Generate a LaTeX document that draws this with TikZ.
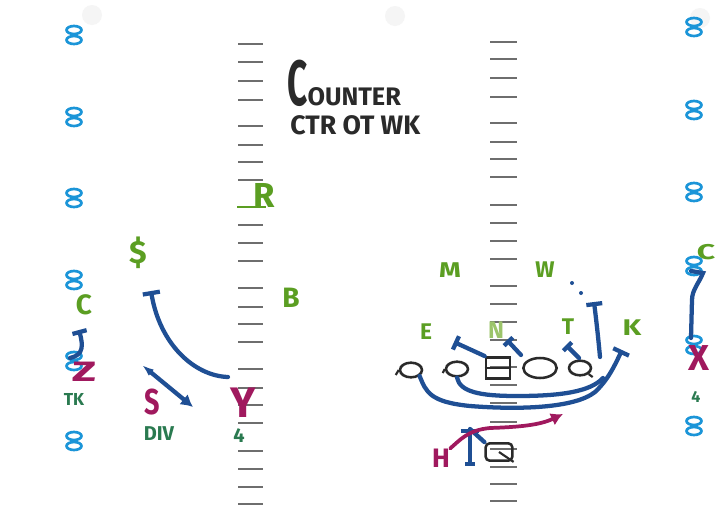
\documentclass[tikz,border=0pt]{standalone}
\usepackage{fontspec}
\setmainfont{Fira Sans}
\usetikzlibrary{arrows.meta,shapes.geometric}

\definecolor{routeblue}{HTML}{1F4F94}
\definecolor{skill}{HTML}{A0195E}
\definecolor{defgreen}{HTML}{5B9E22}
\definecolor{palegreen}{HTML}{9CC46A}
\definecolor{tech}{HTML}{2A7A50}
\definecolor{markblue}{HTML}{1B95D8}
\definecolor{hashgray}{HTML}{6E6E6E}
\definecolor{ink}{HTML}{2A2A2A}

\begin{document}
\begin{tikzpicture}[x=0.75pt,y=-0.75pt,
  hashmark/.style={draw=hashgray, line width=1.4pt},
  route/.style={draw=routeblue, line width=3.2pt, line cap=round},
  blockend/.style={-{Bar[width=#1]}},
  runpath/.style={draw=skill, line width=2.8pt, line cap=round},
  lbl/.style={inner sep=0pt, font=\bfseries\fontsize{#1}{#1}\selectfont},
  def/.style={lbl=#1, text=defgreen},
  off/.style={lbl=#1, text=skill},
  techlbl/.style={lbl=#1, text=tech},
  lineman/.style={draw=ink, line width=1.9pt, ellipse, inner sep=0pt,
    minimum width=16.5pt, minimum height=11pt},
  yardpair/.pic={
    \draw[markblue, line width=2pt] (0,-5) ellipse [x radius=7.5, y radius=4];
    \draw[markblue, line width=2pt] (0,5) ellipse [x radius=7.5, y radius=4];
  }]

\useasboundingbox (0,0) rectangle (726,508);
\fill[white] (0,0) rectangle (726,508);

% binder holes
\foreach \hx/\hy in {92/15, 395/16, 700/18}
  \fill[gray!8] (\hx,\hy) circle (10);

% hash marks, left and middle
\foreach \y in {44,62,81,100,126,145,162,180,225,243,261,288,307,324,342,369,388,405,423,451,469,487,504}
  \draw[hashmark] (238,\y) -- (263,\y);
\draw[defgreen, line width=1.7pt] (237,207) -- (266,207);
\foreach \y in {42,59,78,97,123,142,159,177,205,223,241,259,286,304,322,340,367,385,403,422,449,467,484,501}
  \draw[hashmark] (490,\y) -- (517,\y);

% yard-number marks
\foreach \my in {35,117,198,280,361,441}
  \pic at (74,\my) {yardpair};
\foreach \my in {27,110,192,266,345,426}
  \pic at (694,\my) {yardpair};

% title
\node[anchor=base west, inner sep=0pt, text=ink] (title) at (287,105)
  {\bfseries\scalebox{0.55}[1]{\fontsize{48}{48}\selectfont C}\fontsize{19}{19}\selectfont OUNTER};
\node[anchor=base west, inner sep=0pt, text=ink] (call) at (290,134)
  {\fontsize{20}{20}\selectfont\bfseries CTR OT WK};

% ---- left side: defenders, receivers, routes
\node[def=24] (money) at (138,253) {\$};
\node[def=21] (lcb) at (84,305) {C};
\node[def=21] (bdef) at (291,298) {B};
\node[def=26] (rdef) at (264,195) {R};
\node[off=21] (zrec) at (84,372) {\scalebox{1.6}[1]{Z}};
\node[techlbl=13] (ztech) at (74,399) {TK};
\node[off=27] (srec) at (152,402) {\scalebox{0.75}[1]{S}};
\node[techlbl=15] (stech) at (159,434) {DIV};
\node[off=32] (yrec) at (243,403) {Y};
\node[techlbl=15] (ytech) at (239,436) {4};

\coordinate (zstart) at (70,358);
\coordinate (zend) at (79,330);
\draw[route, blockend=11pt] (zstart) .. controls (84,355) and (83,345) .. (zend);

\coordinate (ystart) at (228,377);
\coordinate (yend) at (151,291);
\draw[route, blockend=13pt] (ystart) .. controls (195,376) and (160,345) .. (yend);

\coordinate (stop) at (142,365);
\coordinate (sbot) at (193,407);
\draw[route, {Latex[length=9pt,width=6pt]}-{Latex[length=9pt,width=10pt]}] (stop) -- (sbot);

% ---- right side: defensive front
\node[def=16] (mike) at (450,270) {\scalebox{1.3}[1]{M}};
\node[def=17] (will) at (545,270) {W};
\node[def=17] (edef) at (426,332) {E};
\node[lbl=18, text=palegreen] (nose) at (496,330) {N};
\node[def=17] (tdef) at (568,327) {T};
\node[def=17] (kdef) at (632,328) {\scalebox{1.3}[1]{K}};

% offensive line
\node[lineman] (lt) at (411,370) {};
\node[lineman] (lg) at (457,369) {};
\node[draw=ink, line width=1.9pt, inner sep=0pt, minimum width=18pt, minimum height=16pt] (ctr) at (498,368) {};
\draw[ink, line width=1.6pt] (ctr.west) -- (ctr.east);
\node[lineman, minimum width=25pt, minimum height=15pt] (rg) at (540,368) {};
\node[lineman] (rt) at (580,368) {};
\draw[ink, line width=1.6pt] (lt.west) -- ++(-3,5);
\draw[ink, line width=1.6pt] (lg.west) -- ++(-2,4);
\draw[ink, line width=1.6pt] (rt.south east) -- ++(4,3);

% quarterback and H
\node[draw=ink, line width=1.9pt, rounded corners=3pt, inner sep=0pt,
  minimum width=20pt, minimum height=13pt] (qb) at (499,452) {};
\draw[ink, line width=1.6pt] (qb.center) -- (qb.south east);
\node[off=20] (hback) at (441,458) {H};

% blocks
\coordinate (eblk) at (454,342);
\draw[route, blockend=11pt] (ctr.north west) -- (eblk);
\coordinate (nstart) at (521,355);
\coordinate (nblk) at (507,340);
\draw[route, blockend=9pt] (nstart) -- (nblk);
\coordinate (tstart) at (579,358);
\coordinate (tblk) at (566,345);
\draw[route, blockend=9pt] (tstart) -- (tblk);

% pulls
\coordinate (pullend) at (622,350);
\draw[route, blockend=13pt] (lt.south east) .. controls (426,392) and (430,402) .. (470,406)
  .. controls (520,410) and (575,408) .. (595,392)
  .. controls (608,380) and (615,365) .. (pullend);
\coordinate (wrapend) at (603,378);
\draw[route] (lg.south) .. controls (460,392) and (480,396) .. (517,396)
  .. controls (560,396) and (590,392) .. (wrapend);

% tackle to the second level, with option dots
\coordinate (lbstart) at (600,357);
\coordinate (lbend) at (594,302);
\draw[route, blockend=12pt] (lbstart) .. controls (598,335) and (596,318) .. (lbend);
\fill[routeblue] (581,293) circle (2) (572,283) circle (2);

% backfield action
\coordinate (hcut) at (470,429);
\coordinate (hfoot) at (470,466);
\draw[route, {Bar[width=7pt]}-{Bar[width=14pt]}] (hfoot) -- (hcut);
\draw[route] (hcut) -- (qb.north west);
\coordinate (hend) at (563,414);
\draw[runpath, -{Latex[length=9pt,width=10pt]}] (hback.north east) .. controls (460,440) and (468,430) .. (490,428)
  .. controls (520,427) and (540,425) .. (hend);

% ---- far right: corner over X
\node[def=16] (rcb) at (706,252) {\scalebox{1.5}[1]{C}};
\node[off=27] (xrec) at (699,358) {X};
\node[techlbl=12] (xtech) at (696,397) {4};
\coordinate (cstart) at (691,271);
\coordinate (cend) at (691,338);
\draw[route] (cstart) -- (703,273) .. controls (699,283) and (692,290) .. (692,300) -- (cend);

\end{tikzpicture}
\end{document}
